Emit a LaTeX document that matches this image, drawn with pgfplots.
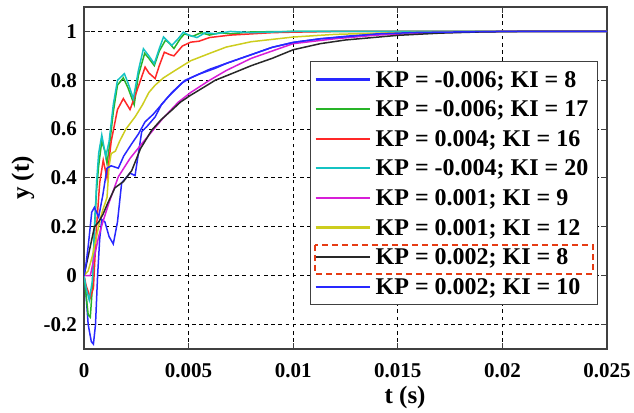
\documentclass[border=0pt]{standalone}
\usepackage{fontspec}
\setmainfont{Liberation Serif}
\usepackage{pgfplots}
\pgfplotsset{compat=1.18}
\definecolor{c1}{RGB}{40,40,255}
\definecolor{c2}{RGB}{40,180,40}
\definecolor{c3}{RGB}{255,40,40}
\definecolor{c4}{RGB}{20,195,195}
\definecolor{c5}{RGB}{215,30,215}
\definecolor{c6}{RGB}{205,205,30}
\definecolor{c7}{RGB}{40,40,40}
\definecolor{c8}{RGB}{40,40,255}
\definecolor{boxred}{RGB}{230,60,20}
\begin{document}
\begin{tikzpicture}
\useasboundingbox (0,0) rectangle (317bp,206.5bp);
\begin{axis}[
  at={(42bp,32bp)}, anchor=south west,
  width=261.5bp, height=171bp, scale only axis,
  xmin=0, xmax=0.025, ymin=-0.3, ymax=1.1,
  scaled x ticks=false, scaled y ticks=false,
  xtick={0,0.005,0.01,0.015,0.02,0.025},
  xticklabels={0,0.005,0.01,0.015,0.02,0.025},
  ytick={-0.2,0,0.2,0.4,0.6,0.8,1},
  yticklabels={-0.2,0,0.2,0.4,0.6,0.8,1},
  /pgf/number format/assume math mode=true,
  tick label style={font=\fontsize{10.5bp}{12bp}\selectfont\bfseries},
  xticklabel style={yshift=-3.5bp},
  label style={font=\fontsize{12.5bp}{14bp}\selectfont\bfseries},
  xlabel={t (s)}, ylabel={y (t)},
  xlabel style={at={(rel axis cs:0.614,0)}, anchor=center, yshift=-24bp},
  ylabel style={at={(rel axis cs:0,0.5)}, anchor=center, yshift=30.5bp},
  grid=major,
  major grid style={black, line width=0.5bp, dash pattern=on 1.8bp off 1.8bp},
  axis line style={black!75, line width=0.6bp},
  tick align=inside, tick pos=both, major tick length=3bp,
  tick style={black!75, line width=0.5bp},
  every axis plot/.append style={line width=0.75bp, mark=none},
  legend cell align=left,
  legend image code/.code={\draw[#1, line width=1.1bp] (0bp,0bp) -- (27bp,0bp);},
  legend style={at={(rel axis cs:0.9828,0.842)}, anchor=north east,
    draw=black!75, line width=0.6bp, fill=white,
    font=\fontsize{12bp}{13bp}\selectfont\bfseries,
    inner xsep=2bp, inner ysep=1.5bp, row sep=0bp,
    nodes={inner ysep=1.75bp, inner xsep=2.5bp, text height=9.5bp, text depth=1.8bp}},
]
\addplot[draw=c1, line width=0.75bp] coordinates {
(0,0) (0.0001,-0.08) (0.0002,-0.2) (0.00035,-0.27) (0.00045,-0.28) (0.00055,-0.2)
(0.00065,0.0) (0.00075,0.15) (0.00085,0.23) (0.0010,0.22) (0.0012,0.16) (0.0014,0.13)
(0.0016,0.22) (0.0018,0.38) (0.0020,0.40) (0.0022,0.42) (0.00244,0.41) (0.0026,0.50)
(0.00276,0.59) (0.0030,0.61) (0.0034,0.65) (0.0037,0.70) (0.0040,0.73) (0.00435,0.76)
(0.0047,0.79) (0.0051,0.81) (0.0060,0.845) (0.00683,0.87) (0.0080,0.905) (0.0090,0.935)
(0.0100,0.955) (0.0113,0.97) (0.0125,0.98) (0.0140,0.99) (0.0160,0.995) (0.0180,0.998)
(0.0200,1.0) (0.0250,1.0)};
\addlegendentry{KP = -0.006; KI = 8}
\addplot[draw=c2, line width=0.75bp] coordinates {
(0,0) (0.0001,-0.08) (0.0002,-0.16) (0.0003,-0.17) (0.0004,-0.05) (0.0005,0.2)
(0.0006,0.35) (0.0007,0.45) (0.00085,0.55) (0.001,0.51) (0.0011,0.46) (0.0012,0.52)
(0.0014,0.67) (0.0016,0.78) (0.00188,0.81) (0.0021,0.77) (0.0024,0.70) (0.0026,0.82)
(0.0029,0.91) (0.0031,0.89) (0.00336,0.86) (0.0036,0.92) (0.0039,0.965) (0.0041,0.95)
(0.0043,0.93) (0.0046,0.97) (0.0048,0.99) (0.0052,0.98) (0.0056,0.995) (0.0060,0.985)
(0.0065,0.995) (0.0070,0.99) (0.0080,0.998) (0.010,1.0) (0.025,1.0)};
\addlegendentry{KP = -0.006; KI = 17}
\addplot[draw=c3, line width=0.75bp] coordinates {
(0,0) (0.0001,-0.04) (0.0003,-0.09) (0.00045,-0.05) (0.0006,0.2) (0.00075,0.38)
(0.00092,0.473) (0.0011,0.40) (0.0013,0.55) (0.0016,0.68) (0.00188,0.725) (0.0022,0.68)
(0.0025,0.75) (0.00292,0.854) (0.0031,0.83) (0.0034,0.807) (0.0036,0.86) (0.00384,0.915)
(0.0041,0.905) (0.0043,0.90) (0.0047,0.94) (0.0051,0.956) (0.0055,0.96) (0.006,0.975)
(0.0065,0.98) (0.007,0.985) (0.008,0.99) (0.009,0.995) (0.010,0.997) (0.012,1.0) (0.025,1.0)};
\addlegendentry{KP = 0.004; KI = 16}
\addplot[draw=c4, line width=0.75bp] coordinates {
(0,0) (0.0001,-0.05) (0.00025,-0.1) (0.0004,-0.02) (0.0005,0.18) (0.0006,0.38)
(0.0007,0.5) (0.00085,0.576) (0.00104,0.487) (0.0012,0.55) (0.0014,0.70) (0.0016,0.80)
(0.00193,0.827) (0.0021,0.79) (0.00236,0.725) (0.0026,0.84) (0.00284,0.929) (0.0031,0.90)
(0.00336,0.868) (0.0036,0.93) (0.0038,0.977) (0.004,0.96) (0.0042,0.943) (0.0045,0.97)
(0.00475,0.997) (0.005,0.985) (0.0054,0.975) (0.0058,0.995) (0.0063,0.99) (0.007,1.0)
(0.008,0.995) (0.01,1.0) (0.025,1.0)};
\addlegendentry{KP = -0.004; KI = 20}
\addplot[draw=c5, line width=0.75bp] coordinates {
(0,0) (0.0003,0.0) (0.0005,0.08) (0.0007,0.16) (0.0009,0.22) (0.0012,0.30)
(0.00164,0.405) (0.0022,0.48) (0.00276,0.54) (0.0037,0.637) (0.0045,0.71) (0.0051,0.75)
(0.006,0.80) (0.0068,0.84) (0.008,0.89) (0.010,0.95) (0.012,0.97) (0.014,0.985)
(0.016,0.993) (0.018,0.997) (0.020,1.0) (0.025,1.0)};
\addlegendentry{KP = 0.001; KI = 9}
\addplot[draw=c6, line width=0.75bp] coordinates {
(0,0) (0.0002,0.02) (0.0004,0.08) (0.0006,0.16) (0.00077,0.23) (0.0009,0.27)
(0.0011,0.32) (0.0012,0.45) (0.0013,0.50) (0.0015,0.51) (0.0017,0.55) (0.0020,0.60)
(0.00244,0.65) (0.0028,0.70) (0.0031,0.75) (0.0034,0.78) (0.0038,0.81) (0.00435,0.84)
(0.0051,0.88) (0.006,0.91) (0.0068,0.936) (0.008,0.958) (0.010,0.977) (0.012,0.988)
(0.015,0.995) (0.020,1.0) (0.025,1.0)};
\addlegendentry{KP = 0.001; KI = 12}
\addplot[draw=c7, line width=0.75bp] coordinates {
(0,0) (0.0001,0.04) (0.0003,0.12) (0.0005,0.2) (0.0007,0.22) (0.0009,0.25)
(0.00115,0.30) (0.00148,0.36) (0.00188,0.385) (0.00228,0.43) (0.0027,0.52) (0.00324,0.596)
(0.0037,0.64) (0.0042,0.678) (0.0046,0.71) (0.0051,0.739) (0.0057,0.77) (0.00627,0.80)
(0.007,0.825) (0.008,0.86) (0.009,0.89) (0.010,0.925) (0.0113,0.95) (0.0125,0.965)
(0.015,0.984) (0.017,0.993) (0.019,0.998) (0.021,1.0) (0.025,1.0)};
\addlegendentry{KP = 0.002; KI = 8}
\addplot[draw=c8, line width=0.75bp] coordinates {
(0,0) (0.0001,0.05) (0.0002,0.12) (0.00037,0.26) (0.0005,0.28) (0.0007,0.24)
(0.0009,0.33) (0.0011,0.44) (0.0013,0.45) (0.00164,0.44) (0.0019,0.49) (0.00228,0.54)
(0.0026,0.58) (0.00292,0.63) (0.0033,0.66) (0.0037,0.70) (0.0042,0.75) (0.00483,0.80)
(0.0055,0.825) (0.0063,0.85) (0.00683,0.87) (0.0080,0.905) (0.0090,0.935) (0.0100,0.955)
(0.0113,0.97) (0.0125,0.978) (0.0140,0.99) (0.0160,0.996) (0.0200,1.0) (0.0250,1.0)};
\addlegendentry{KP = 0.002; KI = 10}
\coordinate (rbA) at (axis cs:0.01105,0.1265);
\coordinate (rbB) at (axis cs:0.02431,0.008);
\end{axis}
\draw[boxred, line width=1bp, dash pattern=on 3bp off 2bp] (rbA) rectangle (rbB);
\end{tikzpicture}
\end{document}
